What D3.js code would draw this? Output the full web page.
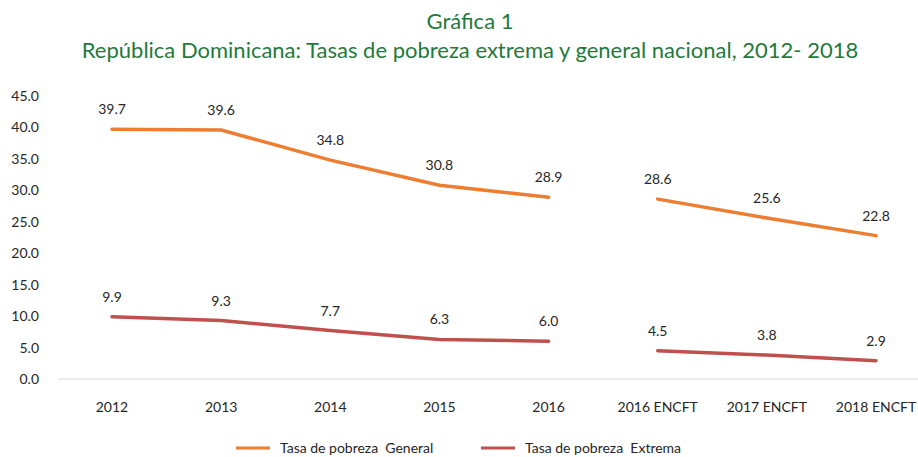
<!DOCTYPE html>
<html lang="es">
<head>
  <meta charset="UTF-8">
  <title>Gráfica 1</title>
  <style>
    body { margin: 0; background: #fff; }
    text { font-family: Lato, 'Open Sans', sans-serif; fill: #262626; white-space: pre; }
  </style>
</head>
<body>
  <svg id="svg" width="918" height="457"></svg>

  <script src="https://d3js.org/d3.v7.min.js"></script>
  <script>
    // data
    const years = ['2012', '2013', '2014', '2015', '2016', '2016 ENCFT', '2017 ENCFT', '2018 ENCFT']
    const general = [39.7, 39.6, 34.8, 30.8, 28.9, 28.6, 25.6, 22.8]
    const extreme = [9.9, 9.3, 7.7, 6.3, 6.0, 4.5, 3.8, 2.9]
    const yTicks = [0, 5, 10, 15, 20, 25, 30, 35, 40, 45]
    // the series break between 2016 and 2016 ENCFT
    const breakAt = 5

    const series = [
      { name: 'Tasa de pobreza  General', values: general, color: '#ED7D31' },
      { name: 'Tasa de pobreza  Extrema', values: extreme, color: '#C0504D' }
    ]

    const svg = d3.select('#svg')

    const xScale = d3.scalePoint()
      .domain(years)
      .range([112, 876])

    const yScale = d3.scaleLinear()
      .domain([0, 45])
      .range([379, 96])

    // title
    svg.append('text')
      .attr('x', 470).attr('y', 29)
      .attr('text-anchor', 'middle')
      .style('font-size', '22px')
      .style('fill', '#1F7A3C')
      .text('Gráfica 1')
    svg.append('text')
      .attr('x', 470).attr('y', 58)
      .attr('text-anchor', 'middle')
      .style('font-size', '22px')
      .style('fill', '#1F7A3C')
      .text('República Dominicana: Tasas de pobreza extrema y general nacional, 2012- 2018')

    // y tick labels
    svg.append('g')
      .selectAll('text')
      .data(yTicks)
      .enter()
      .append('text')
      .attr('x', 39)
      .attr('y', d => yScale(d) + 5)
      .attr('text-anchor', 'end')
      .style('font-size', '14px')
      .text(d => d.toFixed(1))

    // baseline
    svg.append('line')
      .attr('x1', 58).attr('x2', 918)
      .attr('y1', yScale(0)).attr('y2', yScale(0))
      .attr('stroke', '#d9d9d9')
      .attr('stroke-width', 1.2)

    // x labels
    svg.append('g')
      .selectAll('text')
      .data(years)
      .enter()
      .append('text')
      .attr('x', d => xScale(d))
      .attr('y', 412)
      .attr('text-anchor', 'middle')
      .style('font-size', '14px')
      .text(d => d)

    const line = d3.line()
      .x(d => xScale(d.year))
      .y(d => yScale(d.value))

    series.forEach(s => {
      const pts = years.map((y, i) => ({ year: y, value: s.values[i] }))
      const segments = [pts.slice(0, breakAt), pts.slice(breakAt)]

      svg.append('g')
        .selectAll('path')
        .data(segments)
        .enter()
        .append('path')
        .attr('d', line)
        .attr('fill', 'none')
        .attr('stroke', s.color)
        .attr('stroke-width', 3.5)
        .attr('stroke-linecap', 'round')

      svg.append('g')
        .selectAll('text')
        .data(pts)
        .enter()
        .append('text')
        .attr('x', d => xScale(d.year))
        .attr('y', d => yScale(d.value) - 15)
        .attr('text-anchor', 'middle')
        .style('font-size', '14px')
        .text(d => d.value.toFixed(1))
    })

    // legend
    const legend = svg.append('g')
      .selectAll('g')
      .data(series)
      .enter()
      .append('g')
      .attr('transform', (d, i) => `translate(${[236, 481][i]}, 448)`)

    legend.append('line')
      .attr('x1', 0).attr('x2', 34)
      .attr('y1', 0).attr('y2', 0)
      .attr('stroke', d => d.color)
      .attr('stroke-width', 3)

    legend.append('text')
      .attr('x', 44).attr('y', 5)
      .style('font-size', '14px')
      .text(d => d.name)
  </script>
</body>
</html>
